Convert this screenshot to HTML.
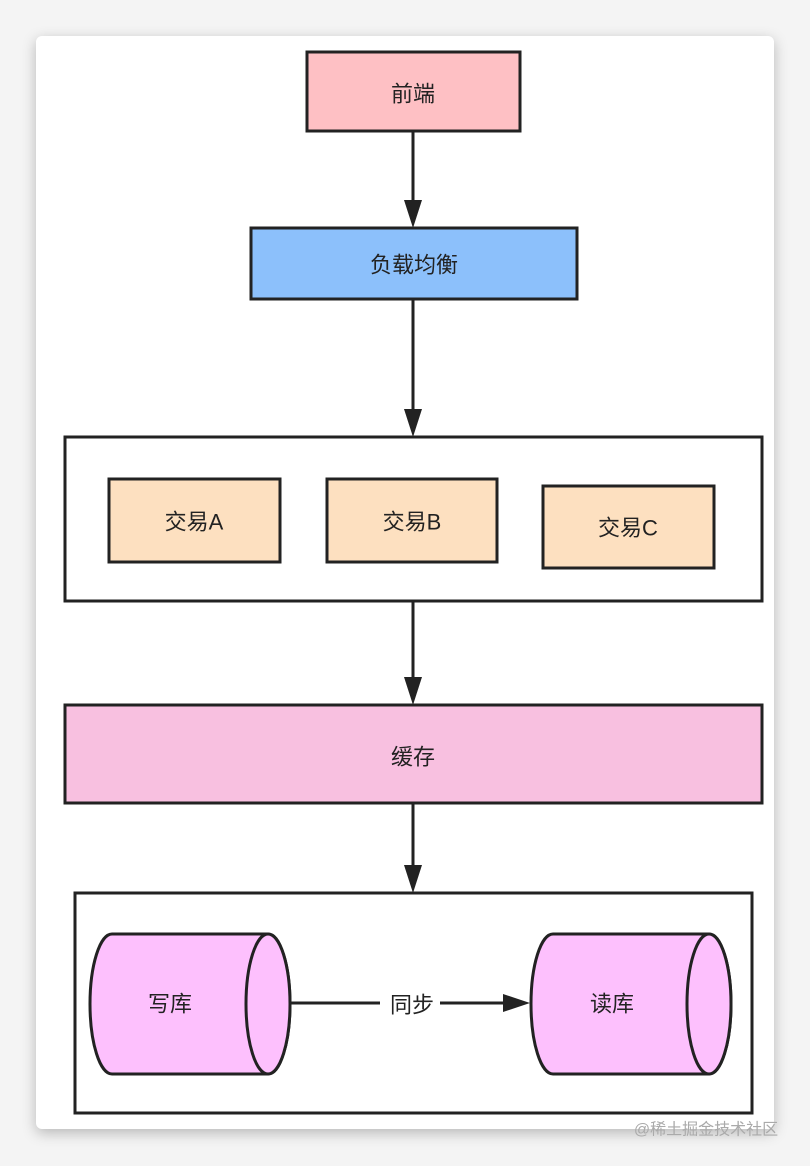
<!DOCTYPE html>
<html><head><meta charset="utf-8"><style>
body{margin:0;background:#f4f4f4;width:810px;height:1166px;overflow:hidden;font-family:"Liberation Sans","Noto Sans CJK SC",sans-serif}
.card{position:absolute;left:36px;top:36px;width:738px;height:1093px;background:#fff;border-radius:6px;box-shadow:0 4px 14px rgba(0,0,0,0.25)}
svg{position:absolute;left:0;top:0}
text{font-family:"Liberation Sans","Noto Sans CJK SC",sans-serif;font-size:22px;fill:#222;text-anchor:middle;dominant-baseline:central}
</style></head><body>
<div class="card"></div>
<svg width="810" height="1166" viewBox="0 0 810 1166">
<defs><marker id="a" markerWidth="10" markerHeight="10" refX="9" refY="5" orient="auto" markerUnits="userSpaceOnUse"><path d="M0,0 L10,5 L0,10z" fill="#222" transform="scale(1)"/></marker></defs>
<g stroke="#222" stroke-width="3">
<rect x="307" y="52" width="213" height="79" fill="#fec0c4"/>
<rect x="251" y="228" width="326" height="71" fill="#8cc0fb"/>
<rect x="65" y="437" width="697" height="164" fill="#fff"/>
<rect x="109" y="479" width="171" height="83" fill="#fde0c0"/>
<rect x="327" y="479" width="170" height="83" fill="#fde0c0"/>
<rect x="543" y="486" width="171" height="82" fill="#fde0c0"/>
<rect x="65" y="705" width="697" height="98" fill="#f8c0e0"/>
<rect x="75" y="893" width="677" height="220" fill="#fff"/>
<path d="M112,934 H268 A22,70 0 0 1 268,1074 H112 A22,70 0 0 1 112,934 Z" fill="#fdc0fd"/>
<ellipse cx="268" cy="1004" rx="22" ry="70" fill="#fdc0fd"/>
<path d="M553,934 H709 A22,70 0 0 1 709,1074 H553 A22,70 0 0 1 553,934 Z" fill="#fdc0fd"/>
<ellipse cx="709" cy="1004" rx="22" ry="70" fill="#fdc0fd"/>
</g>
<g stroke="#222" stroke-width="3" fill="none">
<line x1="413" y1="131" x2="413" y2="208"/>
<line x1="413" y1="299" x2="413" y2="417"/>
<line x1="413" y1="601" x2="413" y2="685"/>
<line x1="413" y1="803" x2="413" y2="873"/>
<line x1="290" y1="1003" x2="380" y2="1003"/>
<line x1="440" y1="1003" x2="505" y2="1003"/>
</g>
<g fill="#222">
<path d="M404,200 L422,200 L413,228z"/>
<path d="M404,409 L422,409 L413,437z"/>
<path d="M404,677 L422,677 L413,705z"/>
<path d="M404,865 L422,865 L413,893z"/>
<path d="M503,994 L503,1012 L530,1003z"/>
</g>
<text x="413" y="94">前端</text>
<text x="414" y="265">负载均衡</text>
<text x="194" y="522">交易A</text>
<text x="412" y="522">交易B</text>
<text x="628" y="528">交易C</text>
<text x="413" y="757">缓存</text>
<text x="170" y="1004">写库</text>
<text x="612" y="1004">读库</text>
<text x="412" y="1005">同步</text>
<text x="706" y="1130" style="font-size:16px;fill:#aaa">@稀土掘金技术社区</text>
</svg>
</body></html>
